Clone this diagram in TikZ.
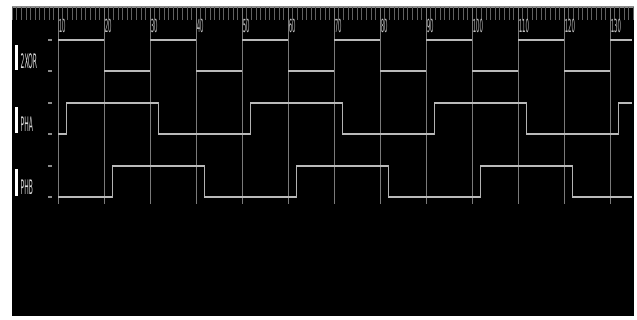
\documentclass[tikz,border=0pt]{standalone}
\usepackage{fontspec}
\setmainfont{DejaVu Sans}
\begin{document}
\begin{tikzpicture}[x=1pt,y=-1pt,
  gridline/.style={draw=black!52, line width=0.6pt},
  minortick/.style={draw=black!62, line width=0.6pt},
  level/.style={draw=black!27, line width=2.4pt},
  edgeline/.style={draw=black!30, line width=1.1pt},
  marker/.style={draw=black!45, line width=1.2pt},
  sigbar/.style={fill=white},
  ticklabel/.style={text=black!25, inner sep=0pt, anchor=north west},
  signame/.style={text=black!15, inner sep=0pt, anchor=south west}]
\useasboundingbox (0,0) rectangle (637,320);
\fill[white] (0,0) rectangle (637,320);
\fill[black] (12,6) rectangle (634,316);
\draw[draw=black!45, line width=1.5pt] (12,6.8) -- (634,6.8);
% minor ticks
\foreach \i in {0,...,135}{
  \draw[minortick] ({12+4.6*\i},7) -- ({12+4.6*\i},20);
}
% major grid and labels
\foreach \t in {10,20,...,130}{
  \draw[gridline] ({58+4.6*(\t-10)},7) -- ({58+4.6*(\t-10)},204);
  \node[ticklabel] (lab\t) at ({58+4.6*(\t-10)+0.6},19) {\scalebox{0.3}[1]{\fontsize{18}{18}\selectfont\t}};
}
% signal names
\fill[sigbar] (14.5,45) rectangle (17.5,70);
\node[signame] (n2xor) at (20.5,69) {\scalebox{0.3}[1]{\fontsize{20}{20}\selectfont 2XOR}};
\fill[sigbar] (14.5,107) rectangle (17.5,133);
\node[signame] (npha) at (20.5,132) {\scalebox{0.3}[1]{\fontsize{20}{20}\selectfont PHA}};
\fill[sigbar] (14.5,169) rectangle (17.5,196);
\node[signame] (nphb) at (20.5,195) {\scalebox{0.3}[1]{\fontsize{20}{20}\selectfont PHB}};
% level markers
\foreach \y in {40,71,103,134,166,197}{
  \draw[marker] (48,\y) -- (52,\y);
}
% 2XOR
\foreach \a/\b in {58/104,150/196,242/288,334/380,426/472,518/564,610/632}{
  \draw[level] (\a,40) -- (\b,40);
}
\foreach \a/\b in {104/150,196/242,288/334,380/426,472/518,564/610}{
  \draw[level] (\a,71) -- (\b,71);
}
% PHA
\draw[edgeline] (58,134) -- (66.3,134) -- (66.3,103) -- (158.3,103) -- (158.3,134) -- (250.3,134) -- (250.3,103) -- (342.3,103) -- (342.3,134) -- (434.3,134) -- (434.3,103) -- (526.3,103) -- (526.3,134) -- (618.3,134) -- (618.3,103) -- (632,103);
\foreach \a/\b in {66.3/158.3,250.3/342.3,434.3/526.3,618.3/632}{
  \draw[level] (\a,103) -- (\b,103);
}
\foreach \a/\b in {58/66.3,158.3/250.3,342.3/434.3,526.3/618.3}{
  \draw[level] (\a,134) -- (\b,134);
}
% PHB
\draw[edgeline] (58,197) -- (112.3,197) -- (112.3,166) -- (204.3,166) -- (204.3,197) -- (296.3,197) -- (296.3,166) -- (388.3,166) -- (388.3,197) -- (480.3,197) -- (480.3,166) -- (572.3,166) -- (572.3,197) -- (632,197);
\foreach \a/\b in {112.3/204.3,296.3/388.3,480.3/572.3}{
  \draw[level] (\a,166) -- (\b,166);
}
\foreach \a/\b in {58/112.3,204.3/296.3,388.3/480.3,572.3/632}{
  \draw[level] (\a,197) -- (\b,197);
}
\end{tikzpicture}
\end{document}
